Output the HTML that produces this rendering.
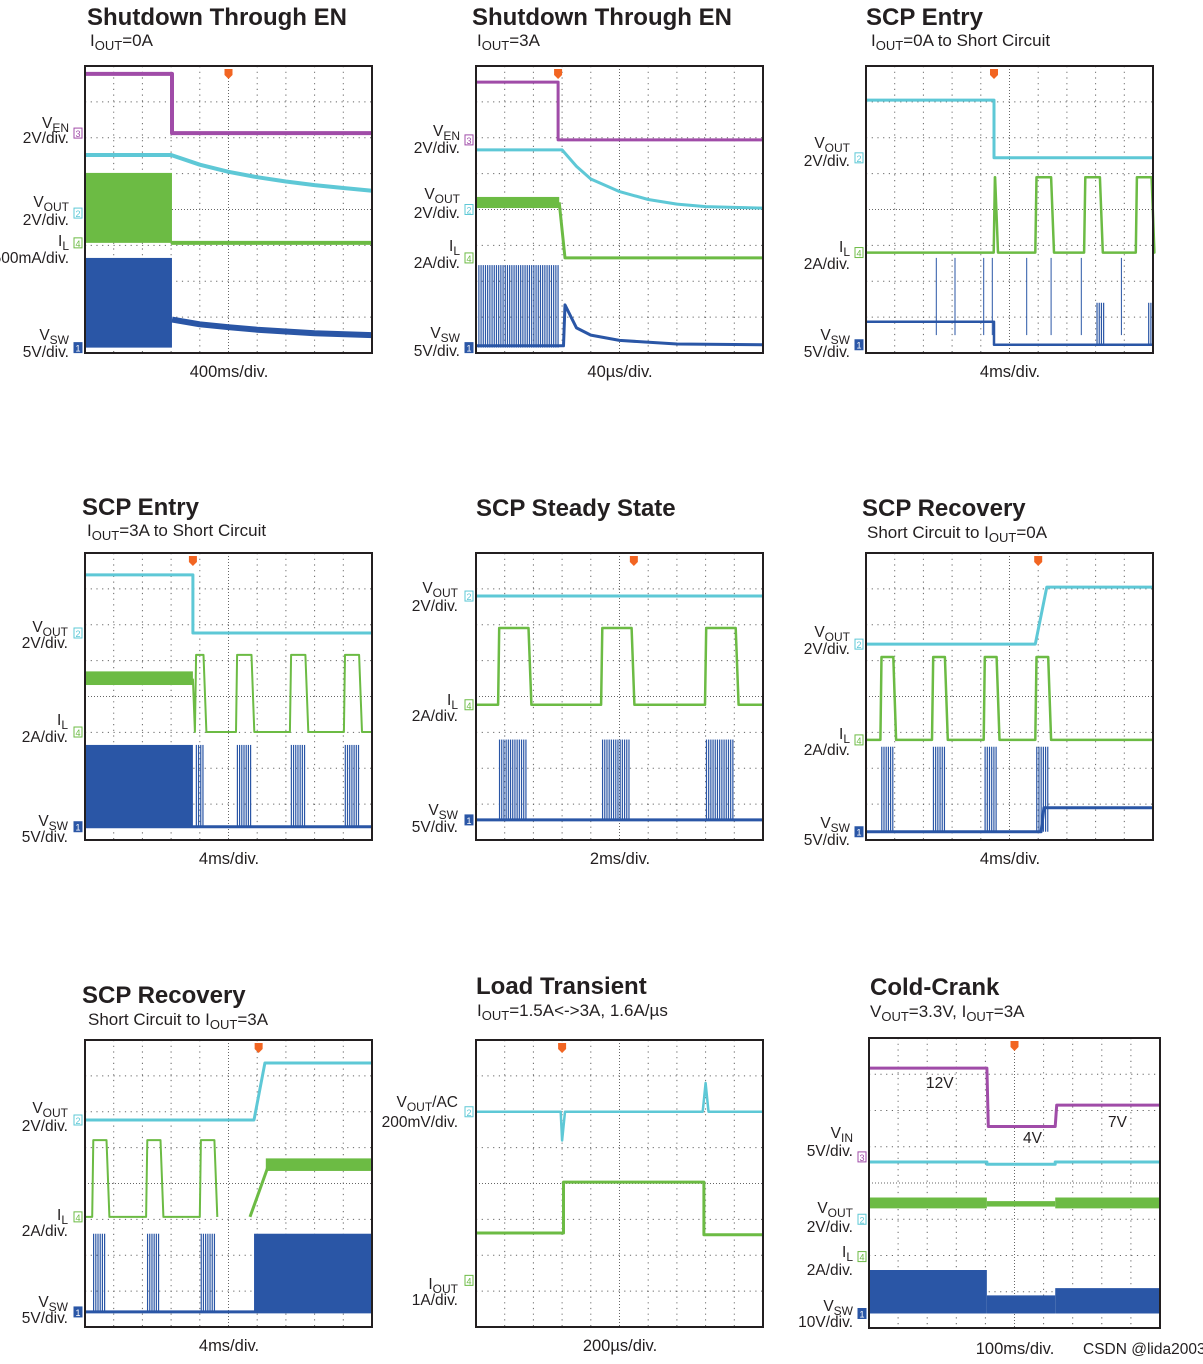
<!DOCTYPE html>
<html><head><meta charset="utf-8"><style>
html,body{margin:0;padding:0;background:#fff;}
svg{display:block;font-family:"Liberation Sans",sans-serif;}
.t{font-size:24px;font-weight:bold;fill:#231f20;}
.s{font-size:17px;fill:#231f20;}
.l{font-size:15.5px;fill:#231f20;}
.b{font-size:16.5px;fill:#231f20;}
</style></head><body>
<svg id="c" width="1203" height="1364" viewBox="0 0 1203 1364"></svg>
<script>
// ---- data (division units: x 0..10, y 0..8 from top) ----
const p1_en=[[0,0.22],[3.03,0.22],[3.03,1.87],[10,1.87]];
const p1_out=[[0,2.48],[3,2.48],[4,2.75],[5,2.95],[6,3.1],[7,3.22],[8,3.32],[9,3.4],[10,3.48]];
const p1_ilBand=[[0,3.03,2.98,4.93]];
const p1_il=[[3,4.93],[10,4.93]];
const p1_swBand=[[0,3.03,5.35,7.85]];
const p1_sw=[[3.03,7.07],[4,7.2],[5,7.28],[6,7.35],[7,7.4],[8,7.45],[10,7.5]];

const p2_en=[[0,0.45],[2.86,0.45],[2.86,2.06],[10,2.06]];
const p2_out=[[0,2.34],[3,2.34],[3.5,2.8],[4,3.15],[5,3.5],[6,3.72],[7,3.85],[8,3.92],[10,3.96]];
const p2_ilBand=[[0,2.9,3.65,3.96]];
const p2_il=[[2.9,3.8],[3.1,5.35],[10,5.35]];
const p2_swBurst=[[0.1,2.9,5.55,7.85]];
const p2_sw=[[0,7.8],[3.05,7.8],[3.1,6.66],[3.5,7.3],[4,7.5],[5,7.65],[7,7.75],[10,7.77]];

const p3_out=[[0,0.95],[4.46,0.95],[4.46,2.56],[10,2.56]];
const p3_pulses=[[4.45,4.55],[5.9,6.5],[7.6,8.2],[9.4,10]];
const p3_sw=[[0,7.13],[4.46,7.13],[4.46,7.77],[10,7.77]];
const p3_spikes=[2.45,3.1,4.1,4.4,5.6,6.45,7.5,8.9];
const p3_swBurst=[[8.05,8.3,6.6,7.77],[9.85,10,6.6,7.77]];

const p4_out=[[0,0.61],[3.76,0.61],[3.76,2.23],[10,2.23]];
const p4_ilBand=[[0,3.76,3.3,3.68]];
const p4_pulses=[[3.83,4.18],[5.26,5.85],[7.14,7.73],[9.02,9.6]];
const p4_swBand=[[0,3.76,5.35,7.66]];

const p5_pulses=[[0.77,1.88],[4.36,5.47],[7.98,9.1]];

const p6_out=[[0,2.54],[5.9,2.54],[6.3,0.95],[10,0.95]];
const p6_pulses=[[0.5,1.0],[2.3,2.8],[4.1,4.6],[5.9,6.4]];
const p6_sw=[[0,7.77],[6.1,7.77],[6.2,7.1],[10,7.1]];

const p7_out=[[0,2.23],[5.89,2.23],[6.27,0.64],[10,0.64]];
const p7_pulses=[[0.25,0.8],[2.13,2.68],[4.0,4.56]];
const p7_ilRamp=[[5.75,4.93],[6.4,3.48]];
const p7_ilBand=[[6.3,10,3.3,3.65]];
const p7_swBand=[[5.89,10,5.4,7.58]];

const p8_out=[[0,2.0],[2.95,2.0],[3.0,2.8],[3.1,2.0],[7.9,2.0],[8.0,1.2],[8.1,2.0],[10,2.0]];
const p8_iout=[[0,5.38],[3.05,5.38],[3.05,3.96],[7.94,3.96],[7.94,5.43],[10,5.43]];

const p9_in=[[0,0.83],[4.05,0.83],[4.1,2.44],[6.4,2.44],[6.45,1.85],[10,1.85]];
const p9_out=[[0,3.42],[4.05,3.42],[4.05,3.48],[6.4,3.48],[6.4,3.42],[10,3.42]];
const p9_ilBand=[[0,4.05,4.4,4.7],[4.05,6.4,4.5,4.65],[6.4,10,4.4,4.7]];
const p9_swBand=[[0,4.05,6.4,7.6],[4.05,6.4,7.1,7.6],[6.4,10,6.9,7.6]];

// ---- drawing ----
const NS="http://www.w3.org/2000/svg";
const svg=document.getElementById('c');
const PUR="#a04ca8",CY="#5ec8d6",GR="#6cbb44",BL="#2a56a6";
function el(tag,attrs,parent){const e=document.createElementNS(NS,tag);for(const k in attrs)e.setAttribute(k,attrs[k]);(parent||svg).appendChild(e);return e;}
function Panel(L,T,W,H,name){
  const p={L,T,W,H,xs:v=>L+v*W/10,ys:v=>T+v*H/8};
  const g=el('g',{});
  
  
  p.g=g;
  el('rect',{x:L,y:T,width:W,height:H,fill:'#fff'},g);
  for(let i=1;i<10;i++){const x=p.xs(i);el('line',{x1:x,y1:T,x2:x,y2:T+H,stroke:'#666','stroke-width':1,'stroke-dasharray':i==5?'1 2':'1.2 4.5'},g);}
  for(let j=1;j<8;j++){const y=p.ys(j);el('line',{x1:L,y1:y,x2:L+W,y2:y,stroke:'#666','stroke-width':1,'stroke-dasharray':j==4?'1 2':'1.2 4.5'},g);}
  return p;
}
function line(p,pts,color,w,name){const d=pts.map((q,i)=>(i?'L':'M')+p.xs(q[0]).toFixed(1)+' '+p.ys(q[1]).toFixed(1)).join(' ');
  const e=el('path',{d,fill:'none',stroke:color,'stroke-width':w,'stroke-linejoin':'round'},p.g);
  
  }
function band(p,arr,color,name){arr.forEach(b=>{const e=el('rect',{x:p.xs(b[0]),y:p.ys(b[2]),width:p.xs(b[1])-p.xs(b[0]),height:p.ys(b[3])-p.ys(b[2]),fill:color},p.g);
  
  });}
function burst(p,arr,color,name){arr.forEach(b=>{const x0=p.xs(b[0]),x1=p.xs(b[1]);for(let x=x0;x<=x1;x+=2.2){const e=el('line',{x1:x,x2:x,y1:p.ys(b[2]),y2:p.ys(b[3]),stroke:color,'stroke-width':1.2},p.g);
  
  }});}
function pulseTrace(pulses,base,high){const pts=[[0,base]];pulses.forEach(q=>{pts.push([q[0],base],[q[0]+0.04,high],[q[1]-0.05,high],[q[1]+0.05,base]);});pts.push([10,base]);return pts;}
function frame(p,trigX){el('rect',{x:p.L,y:p.T,width:p.W,height:p.H,fill:'none',stroke:'#231f20','stroke-width':2},p.g);
  const x=p.xs(trigX);const t=el('path',{d:`M${x-4} ${p.T+3}h8v6l-4 4l-4-4z`,fill:'#f26522'},p.g);
  
  }
function marker(p,y,num,color){const Y=p.ys(y);const g=el('g',{},p.g);
  
  
  el('rect',{x:p.L-11,y:Y-5,width:8,height:10,fill:num==1?color:'#fff',stroke:color,'stroke-width':1},g);
  const t=el('text',{x:p.L-7,y:Y+4,'font-size':9,'text-anchor':'middle',fill:num==1?'#fff':color},g);t.textContent=num;}
function txt(x,y,cls,html,name,anchor){const t=el('text',{x,y,class:cls,'text-anchor':anchor||'start'});t.innerHTML=html;
  
  return t;}
// parts: alternating normal / subscript strings
function rich(parts,fs){let h='',low=false;parts.forEach((s,i)=>{const isSub=i%2==1;
  let dy=0;if(isSub&&!low){dy=4;low=true;}else if(!isSub&&low){dy=-4;low=false;}
  if(s==='')return;
  h+=`<tspan${dy?` dy="${dy}"`:''}${isSub?` font-size="${fs}"`:''}>${s}</tspan>`;});return h;}
function lab(x,y1,parts,y2,scale,name){
  txt(x,y1,'l',rich(parts,12),name+'-label','end');
  txt(x,y2,'l',scale,name+'-scale','end');}

// titles
txt(87,25,'t','Shutdown Through EN','title-1');txt(90,46,'s',rich(['I','OUT','=0A'],13),'subtitle-1');
txt(472,25,'t','Shutdown Through EN','title-2');txt(477,46,'s',rich(['I','OUT','=3A'],13),'subtitle-2');
txt(866,25,'t','SCP Entry','title-3');txt(871,46,'s',rich(['I','OUT','=0A to Short Circuit'],13),'subtitle-3');
txt(82,515,'t','SCP Entry','title-4');txt(87,536,'s',rich(['I','OUT','=3A to Short Circuit'],13),'subtitle-4');
txt(476,516,'t','SCP Steady State','title-5');
txt(862,516,'t','SCP Recovery','title-6');txt(867,538,'s',rich(['Short Circuit to I','OUT','=0A'],13),'subtitle-6');
txt(82,1003,'t','SCP Recovery','title-7');txt(88,1025,'s',rich(['Short Circuit to I','OUT','=3A'],13),'subtitle-7');
txt(476,994,'t','Load Transient','title-8');txt(477,1016,'s',rich(['I','OUT','=1.5A&lt;-&gt;3A, 1.6A/µs'],13),'subtitle-8');
txt(870,995,'t','Cold-Crank','title-9');txt(870,1017,'s',rich(['V','OUT','=3.3V, I','OUT','=3A'],13),'subtitle-9');

// P1
let p=Panel(85,66,287,287,'panel-shutdown-0a');
band(p,p1_ilBand,GR,'il-band');line(p,p1_il,GR,4,'il-trace');
band(p,p1_swBand,BL,'vsw-band');line(p,p1_sw,BL,6,'vsw-trace');
line(p,p1_out,CY,4,'vout-trace');line(p,p1_en,PUR,4,'ven-trace');
frame(p,5);marker(p,1.87,3,PUR);marker(p,4.1,2,CY);marker(p,4.93,4,GR);marker(p,7.85,1,BL);
lab(69,128,['V','EN'],143,'2V/div.','p1-ven');lab(69,207,['V','OUT'],225,'2V/div.','p1-vout');
lab(69,246,['I','L'],263,'500mA/div.','p1-il');lab(69,340,['V','SW'],357,'5V/div.','p1-vsw');
txt(229,377,'b','400ms/div.','p1-timebase','middle');

// P2
p=Panel(476,66,287,287,'panel-shutdown-3a');
band(p,p2_ilBand,GR,'il-band');line(p,p2_il,GR,3,'il-trace');
burst(p,p2_swBurst,BL,'vsw-burst');line(p,p2_sw,BL,3,'vsw-trace');
line(p,p2_out,CY,3,'vout-trace');line(p,p2_en,PUR,3,'ven-trace');
frame(p,2.86);marker(p,2.06,3,PUR);marker(p,4.0,2,CY);marker(p,5.35,4,GR);marker(p,7.85,1,BL);
lab(460,136,['V','EN'],153,'2V/div.','p2-ven');lab(460,199,['V','OUT'],218,'2V/div.','p2-vout');
lab(460,251,['I','L'],268,'2A/div.','p2-il');lab(460,338,['V','SW'],356,'5V/div.','p2-vsw');
txt(620,377,'b','40µs/div.','p2-timebase','middle');

// P3
p=Panel(866,66,287,287,'panel-scp-entry-0a');
line(p,pulseTrace(p3_pulses,5.2,3.1),GR,2.5,'il-trace');
line(p,p3_sw,BL,2.5,'vsw-trace');
p3_spikes.forEach(x=>line(p,[[x,7.5],[x,5.35]],BL,1,'vsw-spike'));
burst(p,p3_swBurst,BL,'vsw-burst');
line(p,p3_out,CY,3,'vout-trace');
frame(p,4.46);marker(p,2.56,2,CY);marker(p,5.2,4,GR);marker(p,7.77,1,BL);
lab(850,148,['V','OUT'],166,'2V/div.','p3-vout');lab(850,252,['I','L'],269,'2A/div.','p3-il');
lab(850,340,['V','SW'],357,'5V/div.','p3-vsw');
txt(1010,377,'b','4ms/div.','p3-timebase','middle');

// P4
p=Panel(85,553,287,287,'panel-scp-entry-3a');
band(p,p4_ilBand,GR,'il-band');
line(p,[[3.76,3.5]].concat(pulseTrace(p4_pulses,4.99,2.84).filter(q=>q[0]>=3.76)),GR,2,'il-trace');
band(p,p4_swBand,BL,'vsw-band');
burst(p,p4_pulses.map(q=>[q[0]+0.05,q[1]-0.05,5.35,7.63]),BL,'vsw-burst');
line(p,[[0,7.63],[10,7.63]],BL,3,'vsw-trace');
line(p,p4_out,CY,3,'vout-trace');
frame(p,3.76);marker(p,2.23,2,CY);marker(p,4.99,4,GR);marker(p,7.63,1,BL);
lab(68,632,['V','OUT'],648,'2V/div.','p4-vout');lab(68,725,['I','L'],742,'2A/div.','p4-il');
lab(68,826,['V','SW'],842,'5V/div.','p4-vsw');
txt(229,864,'b','4ms/div.','p4-timebase','middle');

// P5
p=Panel(476,553,287,287,'panel-scp-steady');
line(p,pulseTrace(p5_pulses,4.23,2.09),GR,2.5,'il-trace');
burst(p,p5_pulses.map(q=>[q[0]+0.05,q[1]-0.1,5.2,7.44]),BL,'vsw-burst');
line(p,[[0,7.44],[10,7.44]],BL,3,'vsw-trace');
line(p,[[0,1.2],[10,1.2]],CY,3,'vout-trace');
frame(p,5.5);marker(p,1.2,2,CY);marker(p,4.23,4,GR);marker(p,7.44,1,BL);
lab(458,593,['V','OUT'],611,'2V/div.','p5-vout');lab(458,705,['I','L'],721,'2A/div.','p5-il');
lab(458,815,['V','SW'],832,'5V/div.','p5-vsw');
txt(620,864,'b','2ms/div.','p5-timebase','middle');

// P6
p=Panel(866,553,287,287,'panel-scp-recovery-0a');
line(p,pulseTrace(p6_pulses,5.21,2.9),GR,2.5,'il-trace');
burst(p,p6_pulses.map(q=>[q[0]+0.05,q[1]-0.05,5.4,7.77]),BL,'vsw-burst');
line(p,p6_sw,BL,3,'vsw-trace');
line(p,p6_out,CY,3,'vout-trace');
frame(p,6.0);marker(p,2.54,2,CY);marker(p,5.21,4,GR);marker(p,7.77,1,BL);
lab(850,637,['V','OUT'],654,'2V/div.','p6-vout');lab(850,739,['I','L'],755,'2A/div.','p6-il');
lab(850,828,['V','SW'],845,'5V/div.','p6-vsw');
txt(1010,864,'b','4ms/div.','p6-timebase','middle');

// P7
p=Panel(85,1040,287,287,'panel-scp-recovery-3a');
line(p,pulseTrace(p7_pulses,4.93,2.79).filter(q=>q[0]<5.75),GR,2,'il-trace');
line(p,p7_ilRamp,GR,3,'il-ramp');band(p,p7_ilBand,GR,'il-band');
burst(p,p7_pulses.map(q=>[q[0]+0.05,q[1]-0.05,5.4,7.58]),BL,'vsw-burst');
band(p,p7_swBand,BL,'vsw-band');
line(p,[[0,7.58],[10,7.58]],BL,3,'vsw-trace');
line(p,p7_out,CY,3,'vout-trace');
frame(p,6.05);marker(p,2.23,2,CY);marker(p,4.93,4,GR);marker(p,7.58,1,BL);
lab(68,1113,['V','OUT'],1131,'2V/div.','p7-vout');lab(68,1220,['I','L'],1236,'2A/div.','p7-il');
lab(68,1307,['V','SW'],1323,'5V/div.','p7-vsw');
txt(229,1351,'b','4ms/div.','p7-timebase','middle');

// P8
p=Panel(476,1040,287,287,'panel-load-transient');
line(p,p8_iout,GR,3,'iout-trace');line(p,p8_out,CY,2.5,'vout-ac-trace');
frame(p,3.0);marker(p,2.0,2,CY);marker(p,6.7,4,GR);
lab(458,1107,['V','OUT','/AC'],1127,'200mV/div.','p8-vout');
lab(458,1289,['I','OUT'],1305,'1A/div.','p8-iout');
txt(620,1351,'b','200µs/div.','p8-timebase','middle');

// P9
p=Panel(869,1038,291,290,'panel-cold-crank');
band(p,p9_ilBand,GR,'il-band');band(p,p9_swBand,BL,'vsw-band');
line(p,p9_out,CY,3,'vout-trace');line(p,p9_in,PUR,3,'vin-trace');
frame(p,5.0);marker(p,3.28,3,PUR);marker(p,5.0,2,CY);marker(p,6.03,4,GR);marker(p,7.6,1,BL);
txt(926,1088,'l','12V','label-12v');txt(1023,1143,'l','4V','label-4v');txt(1108,1127,'l','7V','label-7v');
lab(853,1138,['V','IN'],1156,'5V/div.','p9-vin');lab(853,1213,['V','OUT'],1232,'2V/div.','p9-vout');
lab(853,1257,['I','L'],1275,'2A/div.','p9-il');lab(853,1311,['V','SW'],1327,'10V/div.','p9-vsw');
txt(1015,1354,'b','100ms/div.','p9-timebase','middle');
const wm=txt(1083,1354,'l','CSDN @lida2003','watermark');wm.setAttribute('fill','#999');wm.setAttribute('font-size','12.5');
</script>
</body></html>
